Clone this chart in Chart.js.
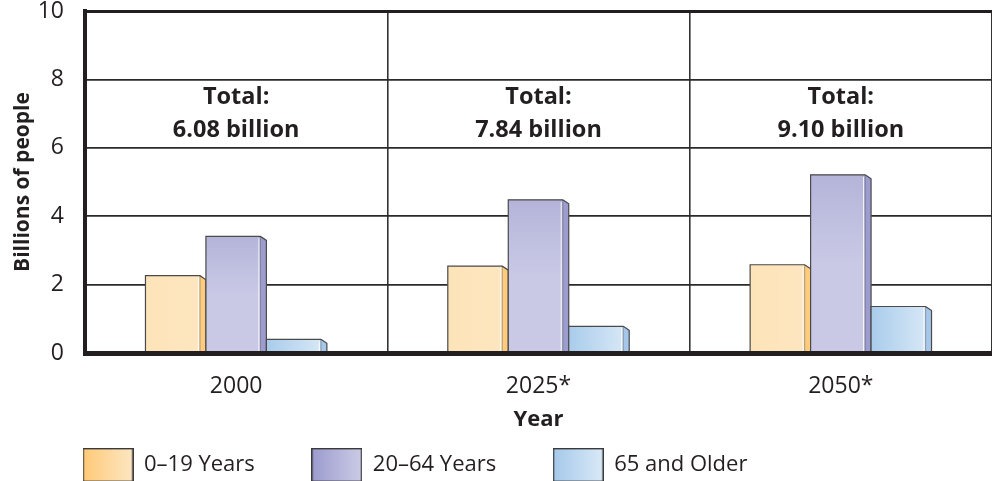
<!DOCTYPE html>
<html>
<head>
<meta charset="utf-8">
<script src="https://cdn.jsdelivr.net/npm/chart.js@4/dist/chart.umd.min.js"></script>
<style>
  html, body { margin: 0; padding: 0; background: #ffffff; }
  #wrap { width: 992px; height: 481px; }
</style>
</head>
<body>
<div id="wrap"><canvas id="c" width="992" height="481"></canvas></div>
<script>
const categories = ['2000', '2025*', '2050*'];
const seriesNames = ['0\u201319 Years', '20\u201364 Years', '65 and Older'];
const ages0to19 = [2.26, 2.54, 2.58];
const ages20to64 = [3.41, 4.48, 5.21];
const ages65plus = [0.40, 0.78, 1.36];
const totals = ['6.08', '7.84', '9.10'];
const yTicks = [0, 2, 4, 6, 8, 10];

const FONT = "'Open Sans', 'DejaVu Sans', sans-serif";
const INK = '#231f20';

const styles = [
  { base: '#fde4ba', faceA: '#fde3b8', faceB: '#fde6c0', dir: 'h', side: '#ffcb7c', legA: '#ffca78', legB: '#fde6c2' },
  { base: '#c6c6e4', faceA: '#b4b4d9', faceB: '#c9c9e6', dir: 'v', side: '#9c9cce', legA: '#9c9ccf', legB: '#cbcbe6' },
  { base: '#bcd8f0', faceA: '#a9cceb', faceB: '#d6e7f6', dir: 'h', side: '#a6c7ea', legA: '#a6c9ea', legB: '#d9e9f8' }
];

function legendSwatch(st) {
  const cv = document.createElement('canvas');
  cv.width = 51; cv.height = 34;
  const g = cv.getContext('2d');
  const gr = g.createLinearGradient(1, 0, 50, 0);
  gr.addColorStop(0, st.legA);
  gr.addColorStop(1, st.legB);
  g.fillStyle = gr;
  g.fillRect(1, 1, 49, 32);
  g.strokeStyle = '#3a3a3a';
  g.lineWidth = 1.4;
  g.strokeRect(0.7, 0.7, 49.6, 32.6);
  return cv;
}
const swatches = styles.map(legendSwatch);

const LEG_PAD = 57;
const LEG_FONT = 22;

const bars3d = {
  id: 'bars3d',
  afterDatasetsDraw(chart) {
    const c = chart.ctx;
    chart.data.datasets.forEach((ds, di) => {
      const st = styles[di];
      const meta = chart.getDatasetMeta(di);
      meta.data.forEach(bar => {
        const p = bar.getProps(['x', 'y', 'base', 'width'], true);
        const L = p.x - p.width / 2, R = p.x + p.width / 2, T = p.y, B = p.base;
        const S = 6, D = 4;
        c.save();
        c.fillStyle = '#ffffff';
        c.beginPath();
        c.moveTo(R - S, T - 1); c.lineTo(R + 1, T - 1); c.lineTo(R + 1, T + D); c.closePath();
        c.fill();
        let g;
        if (st.dir === 'h') g = c.createLinearGradient(L, 0, R - S, 0);
        else g = c.createLinearGradient(0, T, 0, T + (B - T) * 0.5);
        g.addColorStop(0, st.faceA);
        g.addColorStop(1, st.faceB);
        c.fillStyle = g;
        c.fillRect(L, T, R - S - L, B - T);
        c.fillStyle = st.side;
        c.beginPath();
        c.moveTo(R - S, T); c.lineTo(R, T + D); c.lineTo(R, B); c.lineTo(R - S, B); c.closePath();
        c.fill();
        c.strokeStyle = 'rgba(255,255,255,0.85)';
        c.lineWidth = 1;
        c.beginPath();
        c.moveTo(R - S - 1.5, T + 2); c.lineTo(R - S - 1.5, B);
        c.stroke();
        c.strokeStyle = '#4a4a4a';
        c.lineWidth = 1.2;
        c.beginPath();
        c.moveTo(L, B); c.lineTo(L, T); c.lineTo(R - S, T); c.lineTo(R, T + D); c.lineTo(R, B);
        c.stroke();
        c.beginPath();
        c.moveTo(R - S, T); c.lineTo(R - S, B);
        c.strokeStyle = 'rgba(60,60,60,0.35)';
        c.stroke();
        c.restore();
      });
    });
    const xs = chart.scales.x, ys = chart.scales.y;
    c.save();
    c.fillStyle = INK;
    c.textAlign = 'center';
    c.textBaseline = 'middle';
    c.font = "bold 23.5px " + FONT;
    totals.forEach((t, i) => {
      const cx = xs.getPixelForValue(i);
      c.fillText('Total:', cx, ys.getPixelForValue(7.47));
      c.fillText(t + ' billion', cx, ys.getPixelForValue(6.5));
    });
    c.restore();
  },
  afterLayout(chart) {
    const lg = chart.legend;
    if (lg) {
      lg.left = 83 - LEG_PAD;
      lg.top = 465 - LEG_FONT / 2 - LEG_PAD;
    }
  }
};

new Chart(document.getElementById('c'), {
  type: 'bar',
  data: {
    labels: categories,
    datasets: [
      { label: seriesNames[0], data: ages0to19, backgroundColor: styles[0].base, borderWidth: 0 },
      { label: seriesNames[1], data: ages20to64, backgroundColor: styles[1].base, borderWidth: 0 },
      { label: seriesNames[2], data: ages65plus, backgroundColor: styles[2].base, borderWidth: 0 }
    ]
  },
  options: {
    responsive: false,
    animation: false,
    devicePixelRatio: 1,
    layout: { padding: { top: 11, right: 0, bottom: 0, left: 0 } },
    datasets: { bar: { categoryPercentage: 0.6, barPercentage: 1.0 } },
    plugins: {
      tooltip: { enabled: false },
      legend: {
        position: 'bottom',
        align: 'start',
        maxHeight: 45,
        labels: {
          usePointStyle: true,
          pointStyleWidth: 50,
          boxHeight: LEG_FONT,
          padding: LEG_PAD,
          color: INK,
          font: { family: FONT, size: LEG_FONT },
          generateLabels(chart) {
            return chart.data.datasets.map((ds, i) => ({
              text: ds.label,
              fillStyle: styles[i].base,
              strokeStyle: '#333',
              lineWidth: 0,
              pointStyle: swatches[i],
              hidden: false,
              datasetIndex: i,
              fontColor: INK
            }));
          }
        }
      }
    },
    scales: {
      x: {
        afterFit(s) { s.height = 83; },
        offset: true,
        grid: { offset: true, color: '#333333', lineWidth: 1.6, drawTicks: false },
        border: { display: true, width: 5, color: INK, z: 1 },
        ticks: { color: INK, padding: 20, font: { family: FONT, size: 23 } },
        title: { display: true, text: 'Year', color: INK, font: { family: FONT, size: 22, weight: 'bold' }, padding: { top: 0, bottom: 3 } }
      },
      y: {
        min: 0, max: 10,
        afterFit(s) { s.width = 85; },
        afterBuildTicks(s) { s.ticks = yTicks.map(v => ({ value: v })); },
        grid: {
          drawTicks: true,
          tickLength: 21,
          tickColor: 'rgba(0,0,0,0)',
          color: ctx => ctx.tick && ctx.tick.value === 0 ? 'rgba(0,0,0,0)' : (ctx.tick && ctx.tick.value === 10 ? INK : '#2a2a2a'),
          lineWidth: ctx => ctx.tick && ctx.tick.value === 10 ? 3 : 1.7
        },
        border: { display: true, width: 4, color: INK, z: 1 },
        ticks: { color: INK, padding: 0, font: { family: FONT, size: 23, lineHeight: 0.9 } },
        title: { display: true, text: 'Billions of people', color: INK, font: { family: FONT, size: 21, weight: 'bold' }, padding: { top: 10, bottom: 0 } }
      }
    }
  },
  plugins: [bars3d]
});
</script>
</body>
</html>
